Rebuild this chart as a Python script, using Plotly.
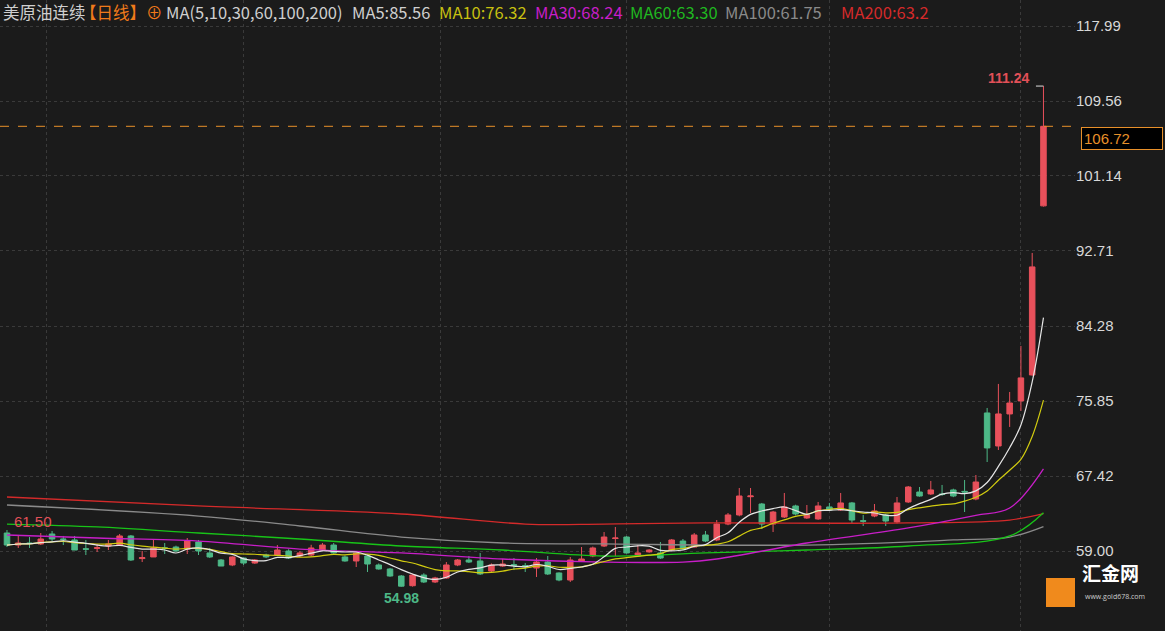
import pandas as pd
import plotly.graph_objects as go

# daily candles (open, high, low, close)
opens = [61.02, 59.67, 59.90, 59.79, 60.91, 60.35, 60.24, 59.25, 59.30, 59.56,
         59.67, 60.69, 58.15, 58.33, 59.36, 59.45, 59.22, 60.01, 58.78, 57.99,
         57.43, 58.21, 57.65, 58.55, 58.55, 59.00, 58.44, 58.55, 59.11, 59.67,
         58.33, 57.88, 58.44, 57.43, 56.98, 56.19, 55.10, 56.30, 55.52, 55.97,
         57.43, 57.99, 57.88, 56.75, 57.31, 57.46, 57.35, 57.09, 57.76, 56.53,
         55.74, 57.88, 58.44, 59.56, 60.40, 60.57, 58.44, 58.90, 58.78, 59.11,
         60.12, 59.45, 60.80, 60.24, 62.03, 63.05, 65.10, 64.28, 62.03, 62.82,
         64.06, 62.71, 62.60, 63.95, 63.61, 64.40, 62.40, 62.93, 63.05, 62.26,
         64.51, 65.63, 65.41, 65.41, 65.86, 65.70, 64.84, 74.51, 70.80, 74.40,
         75.86, 78.78, 97.78]
highs = [61.36, 60.80, 60.57, 61.02, 61.25, 60.69, 60.69, 60.24, 59.79, 60.24,
         60.91, 60.80, 59.00, 60.35, 59.90, 59.60, 60.46, 60.24, 59.34, 58.10,
         58.40, 58.30, 58.10, 58.70, 59.67, 59.20, 59.00, 59.70, 59.90, 59.90,
         58.50, 58.90, 58.55, 57.60, 57.10, 56.30, 56.45, 56.50, 56.10, 57.76,
         58.10, 58.44, 58.78, 57.60, 58.10, 58.21, 57.65, 58.21, 58.44, 56.60,
         58.33, 59.45, 59.50, 61.13, 61.70, 60.69, 59.67, 59.20, 60.01, 60.35,
         60.35, 61.02, 61.25, 62.48, 63.27, 66.08, 66.08, 64.40, 63.50, 65.52,
         64.20, 64.17, 64.51, 64.40, 65.52, 64.51, 63.05, 64.28, 63.16, 65.07,
         66.30, 66.19, 66.87, 66.42, 66.00, 66.98, 67.54, 75.07, 77.77, 76.87,
         82.04, 92.49, 111.24]
lows = [59.45, 59.34, 59.34, 59.67, 60.12, 59.67, 59.11, 58.55, 58.89, 59.11,
        59.67, 57.88, 57.76, 58.33, 58.66, 58.90, 58.66, 58.55, 58.21, 57.31,
        57.30, 57.43, 57.55, 58.20, 58.50, 58.10, 58.30, 58.40, 59.00, 58.70,
        57.80, 57.20, 56.64, 56.90, 56.10, 54.98, 55.00, 55.40, 55.40, 55.90,
        57.30, 57.65, 56.30, 56.60, 57.20, 56.86, 56.64, 56.08, 56.30, 55.60,
        55.52, 57.80, 58.30, 59.45, 58.44, 58.70, 58.40, 58.80, 58.10, 59.00,
        59.10, 59.40, 60.00, 60.10, 61.90, 62.90, 63.27, 61.47, 61.13, 62.70,
        63.00, 62.60, 62.50, 63.50, 63.50, 62.03, 61.81, 62.80, 61.81, 62.10,
        64.40, 65.10, 65.30, 65.20, 65.05, 63.38, 64.70, 69.00, 70.35, 72.94,
        74.74, 78.70, 97.70]
closes = [59.67, 59.90, 59.85, 60.35, 60.35, 60.30, 59.11, 59.20, 59.36, 59.79,
          60.69, 57.99, 58.25, 59.34, 59.30, 59.00, 60.12, 59.00, 58.33, 57.31,
          58.33, 57.65, 57.99, 58.33, 59.11, 58.21, 58.78, 59.34, 59.67, 58.78,
          57.88, 58.78, 57.54, 56.98, 56.19, 55.05, 56.30, 55.52, 55.97, 57.43,
          57.99, 57.76, 56.42, 57.43, 57.54, 57.40, 57.30, 57.76, 56.42, 55.74,
          57.99, 58.10, 59.34, 60.57, 60.46, 58.78, 58.78, 59.11, 58.21, 60.24,
          59.22, 60.80, 60.12, 62.03, 63.05, 65.18, 65.18, 62.03, 63.38, 63.95,
          63.16, 63.05, 64.06, 63.61, 64.40, 62.48, 62.35, 63.50, 62.37, 64.40,
          66.19, 65.18, 65.86, 65.35, 65.18, 65.63, 66.75, 70.58, 74.40, 75.63,
          78.45, 90.92, 106.72]

# longer moving averages read at a few candle positions
ma30_idx = [0, 8, 17, 26, 35, 44, 53, 60, 63, 71, 80, 86, 89, 92]
ma30_val = [60.80, 60.46, 60.12, 59.22, 58.78, 58.10, 57.76, 57.76, 58.10, 59.90, 61.59, 63.00, 63.83, 68.24]
ma60_idx = [0, 8, 17, 26, 35, 44, 53, 62, 71, 80, 89, 92]
ma60_val = [62.03, 61.70, 61.02, 60.35, 59.56, 59.11, 58.44, 58.78, 59.11, 59.56, 60.69, 63.30]
ma100_idx = [0, 17, 26, 35, 44, 53, 71, 84, 89, 92]
ma100_val = [64.17, 62.93, 61.81, 60.57, 59.90, 59.79, 59.67, 60.24, 60.57, 61.75]
ma200_idx = [0, 17, 35, 46, 53, 62, 80, 89, 92]
ma200_val = [65.07, 64.06, 63.16, 62.03, 62.03, 62.15, 62.15, 62.48, 63.20]

y_ticks = [59.00, 67.42, 75.85, 84.28, 92.71, 101.14, 109.56, 117.99]

# header items: text, colour, left edge in px
header = [("美原油连续", "#cfcfcf", 1), ("【日线】⊕", "#f07a1a", 78),
          ("MA(5,10,30,60,100,200)", "#cfcfcf", 164), ("MA5:85.56", "#cfcfcf", 350),
          ("MA10:76.32", "#c8c010", 437), ("MA30:68.24", "#c81ec8", 533),
          ("MA60:63.30", "#20b820", 628), ("MA100:61.75", "#8a8a8a", 723),
          ("MA200:63.2", "#d42a2a", 839)]

idx = list(range(len(closes)))
df = pd.DataFrame({"o": opens, "h": highs, "l": lows, "c": closes}, index=idx)
ma5 = df["c"].rolling(5, min_periods=1).mean()
ma10 = df["c"].rolling(10, min_periods=1).mean()

RED = "#e8505b"
GREEN = "#4db887"
BG = "#1b1b1b"
PW = 1075  # plot area width in px

fig = go.Figure()
fig.add_trace(go.Candlestick(
    x=idx, open=df["o"], high=df["h"], low=df["l"], close=df["c"],
    increasing=dict(line=dict(color=RED, width=1), fillcolor=RED),
    decreasing=dict(line=dict(color=GREEN, width=1), fillcolor=GREEN),
    whiskerwidth=0, hoverinfo="skip",
))
for xs, ys, col in [(ma200_idx, ma200_val, "#d42a2a"),
                    (ma100_idx, ma100_val, "#8a8a8a"),
                    (ma60_idx, ma60_val, "#18c418"),
                    (ma30_idx, ma30_val, "#c81ec8")]:
    fig.add_trace(go.Scatter(x=xs, y=ys, mode="lines", line=dict(color=col, width=1.3, shape="spline")))
fig.add_trace(go.Scatter(x=idx, y=ma10, mode="lines", line=dict(color="#d2cc10", width=1.2, shape="spline")))
fig.add_trace(go.Scatter(x=idx, y=ma5, mode="lines", line=dict(color="#e6e6e6", width=1.2, shape="spline")))

last = closes[-1]
fig.add_hline(y=last, line=dict(color="#e8902a", width=1, dash="dash"))

for txt, col, xp in header:
    fig.add_annotation(text=txt, xref="paper", yref="paper", x=xp / PW, y=1 - 12 / 631,
                       xanchor="left", yanchor="middle", showarrow=False,
                       font=dict(size=16.5, color=col, family="Noto Sans CJK SC"))
fig.add_annotation(text="61.50", x=2.3, y=max(highs[:5]), yshift=-2, xanchor="center", yanchor="bottom",
                   showarrow=False, font=dict(color="#e25058", size=15, family="Arial"))
fig.add_annotation(text="<b>54.98</b>", x=35, y=min(lows), xanchor="center", yanchor="top",
                   yshift=-1, showarrow=False, font=dict(color="#4db887", size=14, family="Arial"))
fig.add_annotation(text="", x=92, y=max(highs), ax=-9, ay=0, showarrow=True, arrowhead=0,
                   arrowcolor="#dddddd", arrowwidth=1)
fig.add_annotation(text="<b>111.24</b>", x=92, y=max(highs), xshift=-12, yshift=8,
                   xanchor="right", showarrow=False,
                   font=dict(color="#e25058", size=14, family="Arial"))
fig.add_annotation(text="106.72", xref="paper", x=1.0055, y=last, xanchor="left", yanchor="top",
                   yshift=-1, showarrow=False, bgcolor="#000000", bordercolor="#e8902a",
                   borderwidth=1, borderpad=2, width=76, align="left",
                   font=dict(color="#e8902a", size=15, family="Arial"))
# logo
fig.add_shape(type="rect", xref="paper", yref="paper", x0=1046 / PW, x1=1075 / PW,
              y0=1 - 607 / 631, y1=1 - 578 / 631, fillcolor="#f08a1c", line_width=0)
fig.add_annotation(text="<b>汇金网</b>", xref="paper", yref="paper", x=1080 / PW, y=1 - 588 / 631,
                   xanchor="left", showarrow=False, font=dict(color="#ffffff", size=19, family="Noto Sans CJK SC"))
fig.add_annotation(text="www.gold678.com", xref="paper", yref="paper", x=1083 / PW, y=1 - 603 / 631,
                   xanchor="left", showarrow=False, font=dict(color="#cccccc", size=7))

px_per_unit = 8.9
fig.update_layout(
    width=1165, height=631, paper_bgcolor=BG, plot_bgcolor=BG, showlegend=False,
    margin=dict(l=0, r=90, t=0, b=0),
    xaxis=dict(range=[-0.62, 94.8], rangeslider=dict(visible=False), showticklabels=False,
               tickvals=[3.5, 21, 38.5, 55, 73, 90], showgrid=True, gridcolor="#3a3a3a",
               griddash="dot", zeroline=False),
    yaxis=dict(side="right", range=[59 - 80 / px_per_unit, 117.99 + 26 / px_per_unit],
               tickvals=y_ticks, ticktext=["%.2f" % v for v in y_ticks], showgrid=True,
               gridcolor="#3a3a3a", griddash="dot", zeroline=False, ticks="",
               tickfont=dict(color="#d8d8d8", size=15, family="Arial")),
)
fig.write_html("out.html", config={"displayModeBar": False},
               post_script="document.body.style.margin='0';document.body.style.background='#1b1b1b';")
